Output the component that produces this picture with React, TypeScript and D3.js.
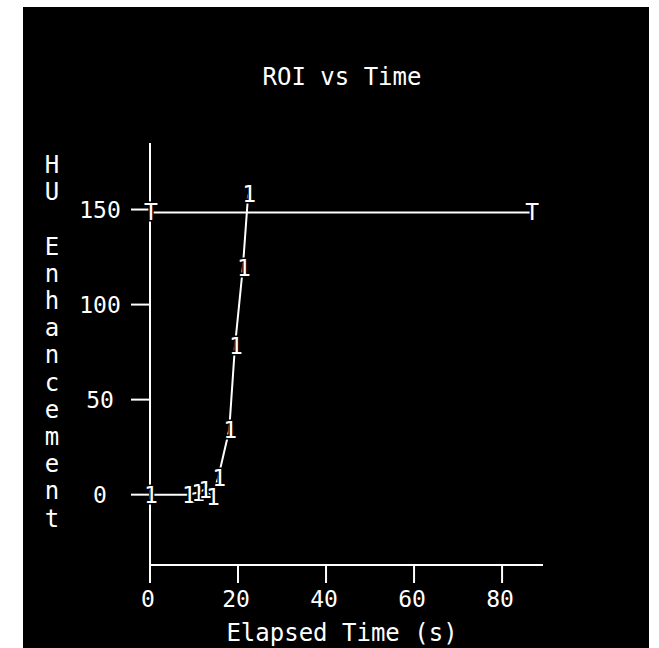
import React, { useEffect, useRef } from 'react';
import * as d3 from 'd3';

// ROI curve (series "1")
const roiTime = [0, 8.6, 10.7, 12.3, 14.1, 15.5, 18, 19.3, 21.1, 22.3];
const roiHU = [0, 0, 1, 2.5, -1, 9, 34, 78, 119.5, 158];

// threshold line (series "T")
const threshTime = [0, 86.6];
const threshHU = [148.5, 148.5];

const xTicks = [0, 20, 40, 60, 80];
const yTicks = [0, 50, 100, 150];
const yLabel = 'HU Enhancement';

const W = 659;
const H = 648;
const FONT = '"DejaVu Sans Mono", "Liberation Mono", monospace';

export default function App() {
  const ref = useRef<SVGSVGElement>(null);

  useEffect(() => {
    const svg = d3.select(ref.current);
    svg.selectAll('*').remove();
    svg.attr('width', W).attr('height', H);

    svg.append('rect').attr('width', W).attr('height', H).attr('fill', '#fff');
    svg.append('rect')
      .attr('x', 23).attr('y', 7)
      .attr('width', 626).attr('height', H - 7)
      .attr('fill', '#000');

    const x = d3.scaleLinear().domain([0, 89.3]).range([150, 543]);
    const y = d3.scaleLinear().domain([-37, 185]).range([565, 143]);

    const g = svg.append('g');

    // axes
    g.append('line')
      .attr('x1', x(0)).attr('x2', x(0))
      .attr('y1', y(185)).attr('y2', y(-37))
      .attr('stroke', '#fff').attr('stroke-width', 2);
    g.append('line')
      .attr('x1', x(0)).attr('x2', x(89.3))
      .attr('y1', y(-37)).attr('y2', y(-37))
      .attr('stroke', '#fff').attr('stroke-width', 2);

    // x ticks
    xTicks.forEach(t => {
      g.append('line')
        .attr('x1', x(t)).attr('x2', x(t))
        .attr('y1', y(-37)).attr('y2', y(-37) + 18)
        .attr('stroke', '#fff').attr('stroke-width', 2);
      g.append('text')
        .attr('x', x(t) - 2).attr('y', 607)
        .attr('text-anchor', 'middle')
        .attr('font-family', FONT).attr('font-size', 23)
        .attr('fill', '#fff')
        .text(t);
    });

    // y ticks
    yTicks.forEach(t => {
      g.append('line')
        .attr('x1', x(0) - 19).attr('x2', x(0))
        .attr('y1', y(t)).attr('y2', y(t))
        .attr('stroke', '#fff').attr('stroke-width', 2);
      g.append('text')
        .attr('x', 100).attr('y', y(t) + 8)
        .attr('text-anchor', 'middle')
        .attr('font-family', FONT).attr('font-size', 23)
        .attr('fill', '#fff')
        .text(t);
    });

    // title + axis labels
    svg.append('text')
      .attr('x', 342).attr('y', 85)
      .attr('text-anchor', 'middle')
      .attr('font-family', FONT).attr('font-size', 24)
      .attr('fill', '#fff')
      .text('ROI vs Time');

    svg.append('text')
      .attr('x', 342).attr('y', 641)
      .attr('text-anchor', 'middle')
      .attr('font-family', FONT).attr('font-size', 24)
      .attr('fill', '#fff')
      .text('Elapsed Time (s)');

    yLabel.split('').forEach((c, i) => {
      svg.append('text')
        .attr('x', 52).attr('y', 173 + i * 27.2)
        .attr('text-anchor', 'middle')
        .attr('font-family', FONT).attr('font-size', 24)
        .attr('fill', '#fff')
        .text(c);
    });

    const line = d3.line<[number, number]>()
      .x(d => x(d[0]))
      .y(d => y(d[1]));

    const series = [
      { t: threshTime, v: threshHU, mark: 'T' },
      { t: roiTime, v: roiHU, mark: '1' },
    ];

    series.forEach(s => {
      const pts = s.t.map((t, i) => [t, s.v[i]] as [number, number]);
      g.append('path')
        .attr('d', line(pts))
        .attr('fill', 'none')
        .attr('stroke', '#fff')
        .attr('stroke-width', 2);
    });

    series.forEach(s => {
      g.selectAll(null)
        .data(s.t.map((t, i) => [t, s.v[i]]))
        .enter()
        .append('text')
        .attr('x', d => x(d[0]) + 1)
        .attr('y', d => y(d[1]) + 8)
        .attr('text-anchor', 'middle')
        .attr('font-family', FONT).attr('font-size', 23)
        .attr('fill', '#fff')
        .attr('stroke', '#000').attr('stroke-width', 3)
        .attr('paint-order', 'stroke')
        .text(s.mark);
    });
  }, []);

  return (
    <svg ref={ref} style={{ position: 'absolute', left: 0, top: 0, display: 'block' }} />
  );
}
